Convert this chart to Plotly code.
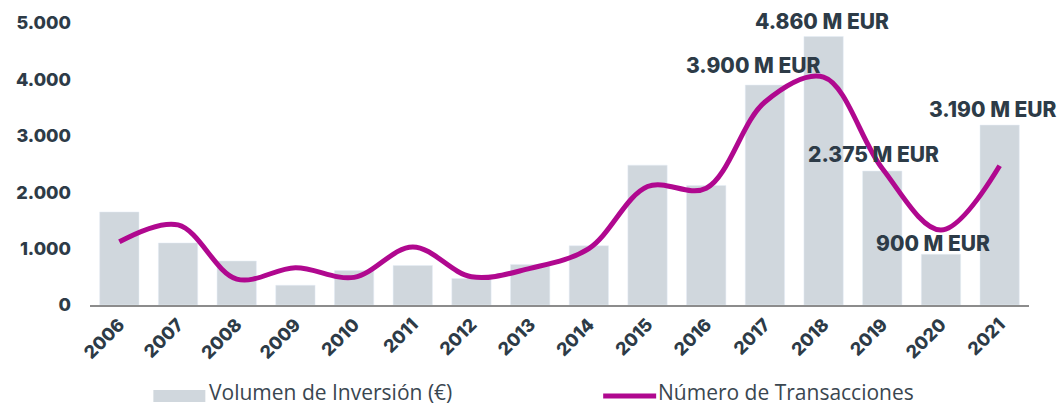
import plotly.graph_objects as go

years = [str(y) for y in range(2006, 2022)]
volumen = [1650, 1100, 780, 350, 610, 700, 470, 720, 1050, 2480, 2120, 3900, 4760, 2375, 900, 3190]
transacciones = [1120, 1420, 460, 660, 490, 1030, 500, 650, 1000, 2100, 2070, 3600, 4040, 2420, 1330, 2470]

label_years = ["2018", "2017", "2021", "2019", "2020"]
label_texts = ["4.860 M EUR", "3.900 M EUR", "3.190 M EUR", "2.375 M EUR", "900 M EUR"]
label_y = [5000, 4245, 3474, 2667, 1088]
label_dx = [-2, -12, -7, -9, -8]
label_dy = [2, 0, 0, 0, 0]

BAR = "#D0D7DD"
LINE = "#B0088F"
TXT = "#2D3B47"
BOLD = "Inter"

fig = go.Figure()
fig.add_trace(go.Bar(x=years, y=volumen, marker_color=BAR, name="Volumen de Inversión (€)",
                     showlegend=False))
fig.add_trace(go.Scatter(x=years, y=transacciones, mode="lines", name="Número de Transacciones",
                         line=dict(color=LINE, width=5, shape="spline", smoothing=1.0),
                         showlegend=False))

for yr, t, yv, dx, dy in zip(label_years, label_texts, label_y, label_dx, label_dy):
    fig.add_annotation(x=years.index(yr), y=yv, text=t, showarrow=False, xshift=dx, yshift=dy,
                       xanchor="center", yanchor="middle",
                       font=dict(family=BOLD, size=21, color=TXT, weight=800))

# custom legend
def px_x(p):
    return (p - 89.6) / 939.4

def px_y(p):
    return (305 - p) / 285

fig.add_shape(type="rect", xref="paper", yref="paper", x0=px_x(153), x1=px_x(205),
              y0=px_y(403), y1=px_y(391), fillcolor=BAR, line_width=0)
fig.add_annotation(xref="paper", yref="paper", x=px_x(208), y=px_y(406), text="Volumen de Inversión (€)",
                   showarrow=False, xanchor="left", yanchor="bottom", borderpad=0, yshift=-2,
                   font=dict(family="Open Sans", size=21, color="#3A4650"))
fig.add_shape(type="line", xref="paper", yref="paper", x0=px_x(603), x1=px_x(656),
              y0=px_y(397), y1=px_y(397), line=dict(color=LINE, width=5))
fig.add_annotation(xref="paper", yref="paper", x=px_x(657), y=px_y(406), text="Número de Transacciones",
                   showarrow=False, xanchor="left", yanchor="bottom", borderpad=0, yshift=-2,
                   font=dict(family="Open Sans", size=21, color="#3A4650"))

fig.update_layout(
    width=1064, height=406,
    margin=dict(l=90, r=35, t=20, b=101),
    plot_bgcolor="white", paper_bgcolor="white",
    bargap=0.33,
    showlegend=False,
)
fig.update_xaxes(type="category", tickangle=-45, showgrid=False, showline=True,
                 linecolor="#8C8C8C", linewidth=2, ticks="",
                 tickfont=dict(family=BOLD, size=18, color=TXT, weight=800),
                 range=[-0.5, 15.5])
fig.update_yaxes(range=[0, 5000], tickvals=[0, 1000, 2000, 3000, 4000, 5000],
                 ticktext=["0", "1.000", "2.000", "3.000", "4.000", "5.000"],
                 showgrid=False, zeroline=False, showline=False, ticks="",
                 ticklabelstandoff=18,
                 tickfont=dict(family=BOLD, size=18, color=TXT, weight=800))

fig.write_html("out.html", config={"displayModeBar": False},
               post_script="document.body.style.margin='0';document.body.style.overflow='hidden';")
